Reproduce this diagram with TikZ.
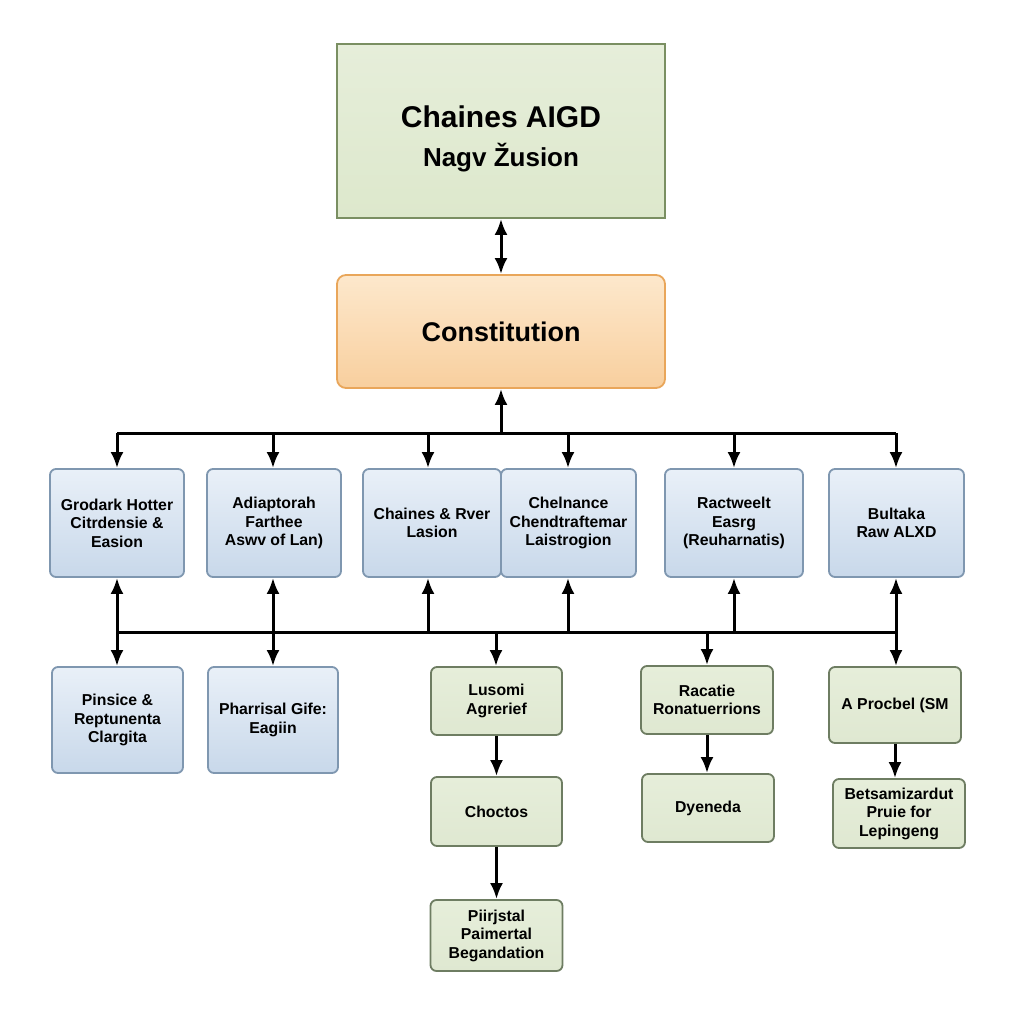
\documentclass[tikz,border=0pt]{standalone}
\usepackage{fontspec}
\setmainfont{Liberation Sans}
\usetikzlibrary{arrows.meta}
\definecolor{bluetop}{HTML}{E9F0F8}
\definecolor{bluebot}{HTML}{C8D8EA}
\definecolor{blueline}{HTML}{7F97B0}
\definecolor{greenfill}{HTML}{DFE8D1}
\definecolor{greentop}{HTML}{E6EEDA}
\definecolor{greenline}{HTML}{6E7D62}
\definecolor{topfill}{HTML}{DDE8CC}
\definecolor{topline}{HTML}{7A8F62}
\definecolor{orangetop}{HTML}{FDE8CC}
\definecolor{orangebot}{HTML}{F8CF9E}
\definecolor{orangeline}{HTML}{E9A65A}
\tikzset{
  x=1pt,y=-1pt,
  basebox/.style={rounded corners=6pt, line width=1.8pt, align=center, inner sep=2pt,
     font=\fontsize{15.8}{18.5}\selectfont\bfseries},
  bluebox/.style={basebox, draw=blueline, top color=bluetop, bottom color=bluebot},
  greenbox/.style={basebox, draw=greenline, top color=greentop, bottom color=greenfill},
  conn/.style={line width=3pt, black},
  arr/.style={conn, -{Latex[length=16pt,width=13pt]}},
  darr/.style={conn, {Latex[length=16pt,width=13pt]}-{Latex[length=16pt,width=13pt]}},
}
\begin{document}
\begin{tikzpicture}
\useasboundingbox[fill=white] (0,0) rectangle (1024,1024);
% top box
\node[draw=topline, line width=1.8pt, top color=greentop, bottom color=topfill,
  minimum width=328pt, minimum height=174pt, align=center, inner sep=0pt] (top) at (501,131)
  {{\fontsize{30}{36}\selectfont\bfseries\rule{0pt}{38pt}Chaines AIGD}\\[14pt]{\fontsize{26}{30}\selectfont\bfseries Nagv Žusion}};
% constitution
\node[rounded corners=9pt, draw=orangeline, line width=1.8pt, top color=orangetop, bottom color=orangebot,
  minimum width=328pt, minimum height=113pt, font=\fontsize{27}{32}\selectfont\bfseries] (con) at (501,331.5) {Constitution};
\draw[darr] (top.south) -- (con.north);
% row 1
\node[bluebox, minimum width=134pt, minimum height=108pt] (b1) at (117,523) {Grodark Hotter\\Citrdensie \&\\Easion};
\node[bluebox, minimum width=134pt, minimum height=108pt] (b2) at (274,523) {Adiaptorah\\Farthee\\Aswv of Lan)};
\node[bluebox, minimum width=138pt, minimum height=108pt] (b3) at (432,523) {Chaines \& Rver\\Lasion};
\node[bluebox, minimum width=135pt, minimum height=108pt] (b4) at (568.5,523) {Chelnance\\Chendtraftemar\\Laistrogion};
\node[bluebox, minimum width=138pt, minimum height=108pt] (b5) at (734,523) {Ractweelt\\Easrg\\(Reuharnatis)};
\node[bluebox, minimum width=135pt, minimum height=108pt] (b6) at (896.5,523) {Bultaka\\Raw ALXD};
% top bus
\coordinate (tb) at (501,433);
\coordinate (tl) at (117,433);
\coordinate (tr) at (896,433);
\draw[conn] (tl) -- (tr);
\draw[arr] (tb) -- (con.south);
\foreach \n/\x in {b1/117,b2/273,b3/428,b4/568,b5/734,b6/896}{
  \coordinate (t\n) at (\x,433);
  \draw[arr] (t\n) -- (t\n |- \n.north);
}
% lower bus
\coordinate (ll) at (117,632);
\coordinate (lr) at (896,632);
\draw[conn] (ll) -- (lr);
\foreach \n/\x in {b1/117,b2/273,b3/428,b4/568,b5/734,b6/896}{
  \coordinate (u\n) at (\x,632);
  \draw[arr] (u\n) -- (u\n |- \n.south);
}
% row 2
\node[bluebox, minimum width=131pt, minimum height=106pt] (c1) at (117.5,720) {Pinsice \&\\Reptunenta\\Clargita};
\node[bluebox, minimum width=130pt, minimum height=106pt] (c2) at (273,720) {Pharrisal Gife:\\Eagiin};
\node[greenbox, minimum width=131pt, minimum height=68pt] (c3) at (496.5,701) {Lusomi\\Agrerief};
\node[greenbox, minimum width=132pt, minimum height=68pt] (c4) at (707,700) {Racatie\\Ronatuerrions};
\node[greenbox, minimum width=132pt, minimum height=76pt] (c5) at (895,705) {A Procbel (SM};
\foreach \n/\x in {c1/117,c2/273,c3/496,c4/707,c5/896}{
  \coordinate (d\n) at (\x,632);
  \draw[arr] (d\n) -- (d\n |- \n.north);
}
% row 3
\node[greenbox, minimum width=131pt, minimum height=69pt] (d3) at (496.5,811.5) {Choctos};
\node[greenbox, minimum width=132pt, minimum height=68pt] (d4) at (708,808) {Dyeneda};
\node[greenbox, minimum width=132pt, minimum height=69pt] (d5) at (899,813.5) {Betsamizardut\\Pruie for\\Lepingeng};
\draw[arr] (c3) -- (d3);
\draw[arr] (c4.south) -- (c4.south |- d4.north);
\draw[arr] (c5.south) -- (c5.south |- d5.north);
% row 4
\node[greenbox, minimum width=132pt, minimum height=71pt] (e3) at (496.5,935.5) {Piirjstal\\Paimertal\\Begandation};
\draw[arr] (d3) -- (e3);
\end{tikzpicture}
\end{document}
